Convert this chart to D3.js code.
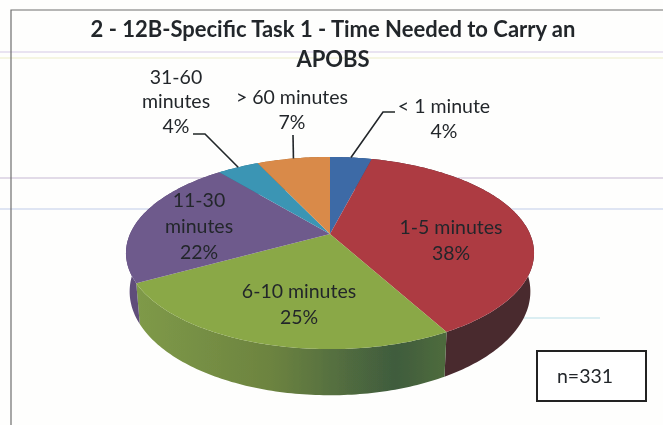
<!DOCTYPE html>
<html>
<head>
<meta charset="utf-8">
<style>
  html, body { margin: 0; padding: 0; background: #fefefd; }
  svg { display: block; }
  text { font-family: Lato, "Open Sans", sans-serif; fill: #23272b; }
</style>
</head>
<body>
<div id="vis-container"></div>
<script src="https://cdn.jsdelivr.net/npm/d3@7"></script>
<script>
const categories = ["< 1 minute", "1-5 minutes", "6-10 minutes", "11-30 minutes", "31-60 minutes", "> 60 minutes"];
const values = [4, 38, 25, 22, 4, 7];
const topColors = ["#3c6ba6", "#ad3a43", "#8aa846", "#6e5a8c", "#3b95b4", "#d98a48"];
const sideColors = ["#2c4f7c", "#4a2a2f", "url(#greenSide)", "#5f4d7a", "#2c708a", "#a5662f"];
const titleLines = ["2 - 12B-Specific Task 1 - Time Needed to Carry an", "APOBS"];
const sampleSize = "n=331";

const width = 663;
const height = 425;

// label layout, one entry per slice
const labelLines = [
    ["< 1 minute", "4%"],
    ["1-5 minutes", "38%"],
    ["6-10 minutes", "25%"],
    ["11-30", "minutes", "22%"],
    ["31-60", "minutes", "4%"],
    ["> 60 minutes", "7%"]
];
const labelPos = [[444, 106], [451, 227], [299, 291], [199, 200], [176, 77], [292, 97]];
const labelStep = [25, 26, 26, 26, 24.5, 25];
const leaderElbow = [[[395, 112], [383, 112]], null, null, null, [[193, 134], [205, 134]], [[293, 135]]];

// faint scanner lines on the page
const scanLines = [
    { y: 52, x0: 0, x1: 663, color: "#e2daec" },
    { y: 58, x0: 0, x1: 663, color: "#f2f2d8" },
    { y: 178, x0: 0, x1: 663, color: "#d8cfe0" },
    { y: 209, x0: 0, x1: 663, color: "#d4dcef" },
    { y: 318, x0: 520, x1: 600, color: "#cfe9ee" }
];

const svg = d3.select("#vis-container")
    .append("svg")
    .attr("width", width)
    .attr("height", height);

const defs = svg.append("defs");
defs.append("filter").attr("id", "scan")
    .append("feGaussianBlur").attr("stdDeviation", 0.45);

const grad = defs.append("linearGradient").attr("id", "greenSide")
    .attr("gradientUnits", "userSpaceOnUse")
    .attr("x1", 135).attr("x2", 441).attr("y1", 0).attr("y2", 0);
grad.append("stop").attr("offset", "0%").attr("stop-color", "#7f9a48");
grad.append("stop").attr("offset", "45%").attr("stop-color", "#6c8340");
grad.append("stop").attr("offset", "85%").attr("stop-color", "#3f5c3e");
grad.append("stop").attr("offset", "100%").attr("stop-color", "#4d6a3d");

const page = svg.append("g").attr("filter", "url(#scan)");

page.selectAll(".scan")
    .data(scanLines)
    .enter()
    .append("line")
    .attr("x1", d => d.x0).attr("x2", d => d.x1)
    .attr("y1", d => d.y).attr("y2", d => d.y)
    .attr("stroke", d => d.color)
    .attr("stroke-width", 1.5);

// chart frame, only top and left survive in the scan
page.append("path")
    .attr("d", "M663,10H11V425")
    .attr("fill", "none")
    .attr("stroke", "#6f6f6f")
    .attr("stroke-width", 1.2);

// Pie seen in perspective: disk coordinates to screen
const cx = 330, apexY = 234, radius = 200, tilt = 0.198, fall = -46, depth = 37;

function project(angle, drop) {
    const u = Math.sin(angle), v = Math.cos(angle);
    const w = 1 + tilt * v;
    const shrink = drop ? 0.982 : 1;
    return [
        cx + shrink * radius * u / w,
        (fall * v + apexY) / w + (drop ? depth / w : 0)
    ];
}

function rim(a0, a1, drop) {
    const n = Math.max(2, Math.ceil((a1 - a0) * 60));
    return d3.range(n + 1).map(i => project(a0 + (a1 - a0) * i / n, drop));
}

const pie = d3.pie().sort(null).value(d => d);
const slices = pie(values);
const line = d3.line();

// side walls first, the top faces cover whatever is behind
page.append("g").selectAll("path")
    .data(slices)
    .enter()
    .append("path")
    .attr("d", d => line(rim(d.startAngle, d.endAngle, false).concat(rim(d.startAngle, d.endAngle, true).reverse())) + "Z")
    .attr("fill", (d, i) => sideColors[i]);

page.append("g").selectAll("path")
    .data(slices)
    .enter()
    .append("path")
    .attr("d", d => line([[cx, apexY]].concat(rim(d.startAngle, d.endAngle, false))) + "Z")
    .attr("fill", (d, i) => topColors[i]);

// Leader lines
slices.forEach((d, i) => {
    if (!leaderElbow[i]) return;
    const end = project((d.startAngle + d.endAngle) / 2, false);
    page.append("path")
        .attr("d", line(leaderElbow[i].concat([end])))
        .attr("fill", "none")
        .attr("stroke", "#22262a")
        .attr("stroke-width", 1.6);
});

// Labels
labelLines.forEach((lines, i) => {
    lines.forEach((t, j) => {
        page.append("text")
            .attr("x", labelPos[i][0])
            .attr("y", labelPos[i][1] + j * labelStep[i])
            .attr("dy", "0.35em")
            .attr("text-anchor", "middle")
            .attr("font-size", "19.5px")
            .text(t);
    });
});

// Title
page.selectAll(".title")
    .data(titleLines)
    .enter()
    .append("text")
    .attr("x", 333)
    .attr("y", (d, i) => 29 + i * 30)
    .attr("dy", "0.35em")
    .attr("text-anchor", "middle")
    .attr("font-size", "22px")
    .attr("font-weight", "bold")
    .text(d => d);

// n box
page.append("rect")
    .attr("x", 537).attr("y", 351)
    .attr("width", 109).attr("height", 50)
    .attr("fill", "#fff")
    .attr("stroke", "#222")
    .attr("stroke-width", 2);
page.append("text")
    .attr("x", 585).attr("y", 376)
    .attr("dy", "0.35em")
    .attr("text-anchor", "middle")
    .attr("font-size", "19.5px")
    .text(sampleSize);
</script>
</body>
</html>
